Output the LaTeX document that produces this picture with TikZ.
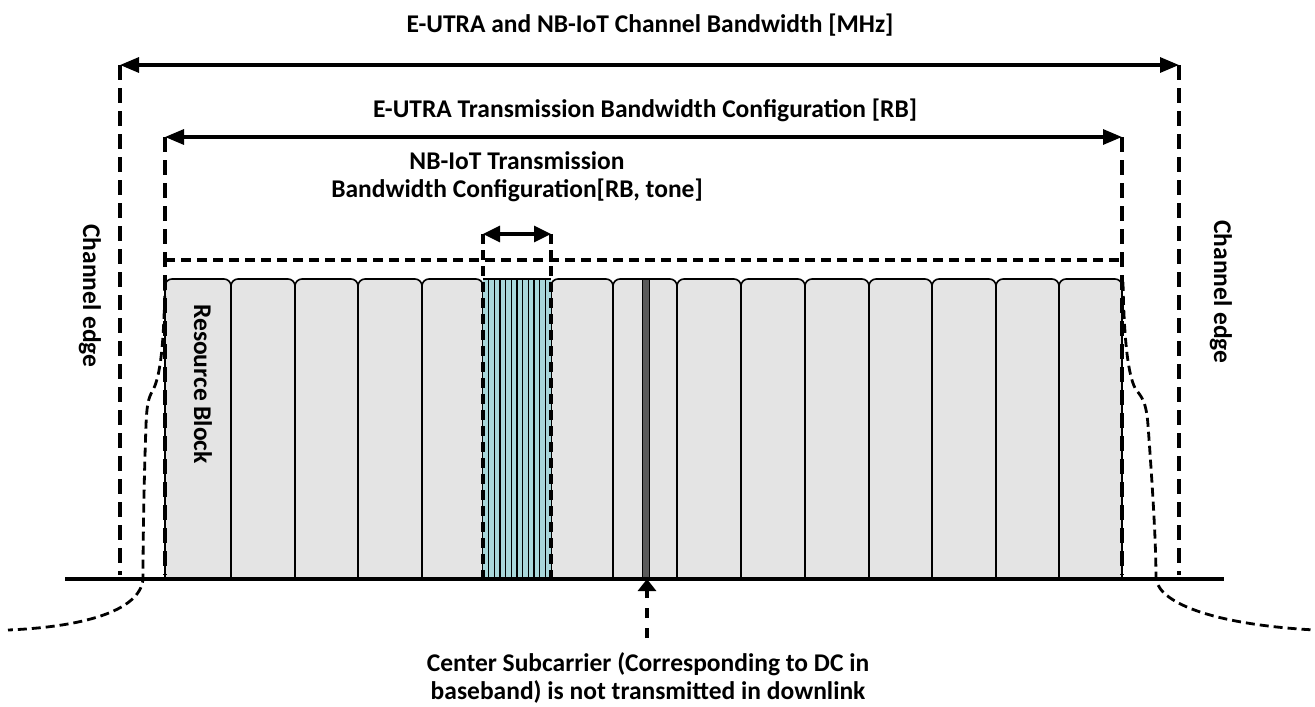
\documentclass[tikz,border=0pt]{standalone}
\usepackage{fontspec}
\setmainfont{Carlito}
\usetikzlibrary{arrows.meta}
\definecolor{rbgray}{RGB}{228,228,228}
\definecolor{nbcyan}{RGB}{168,215,218}
\definecolor{dcgray}{RGB}{90,90,90}
\begin{document}
\begin{tikzpicture}[x=1pt,y=-1pt,
  lbl/.style={font=\bfseries\fontsize{25.5}{28}\selectfont, inner sep=0pt},
  blk/.style={fill=rbgray, draw=black, line width=1.6pt, rounded corners=7pt},
  dshL/.style={line width=3.2pt, dash pattern=on 15pt off 8pt},
  dsh/.style={line width=3.2pt, dash pattern=on 10pt off 6pt},
  dshc/.style={line width=2.8pt, dash pattern=on 9pt off 5pt},
  arr/.style={line width=3.2pt, {Triangle[length=19pt,width=15pt]}-{Triangle[length=19pt,width=15pt]}},
  arrs/.style={line width=3.2pt, {Triangle[length=17pt,width=16pt]}-{Triangle[length=17pt,width=16pt]}}]
\useasboundingbox (0,0) rectangle (1315,707);
% resource blocks
\foreach \a/\b in {165/231,231/295,295/358,358/422,422/483,551/613,613/677,677/741,741/805,805/869,869/932,932/996,996/1059,1059/1122}
  \filldraw[blk] (\a,579) |- (\b,279) -- (\b,579);
% NB-IoT block
\fill[nbcyan] (483,279) rectangle (551,579);
\foreach \k in {1,...,11}
  \draw[line width=1.3pt] ({483+\k*68/12},279) -- ++(0,300);
\draw[line width=1.6pt] (483,279) -- (551,279);
% DC subcarrier
\filldraw[fill=dcgray, draw=black, line width=1pt] (642,279) rectangle (649,579);
% coordinates
\coordinate (oL) at (120,65);  \coordinate (oR) at (1179,65);
\coordinate (oLb) at (120,575); \coordinate (oRb) at (1179,575);
\coordinate (iL) at (165,137); \coordinate (iR) at (1122,137);
\coordinate (iLb) at (165,575); \coordinate (iRb) at (1122,575);
\coordinate (bL) at (165,260); \coordinate (bR) at (1122,260);
\coordinate (nL) at (483,234); \coordinate (nR) at (551,234);
\coordinate (nLb) at (483,579); \coordinate (nRb) at (551,579);
\coordinate (gL) at (65,579); \coordinate (gR) at (1224,579);
\coordinate (dcTop) at (647,579); \coordinate (dcBot) at (647,638);
% dashed guide lines
\draw[dshL] (oL) -- (oLb);
\draw[dshL] (oR) -- (oRb);
\draw[dshL] (iL) -- (iLb);
\draw[dshL] (iR) -- (iRb);
\draw[dsh] (bL) -- (bR);
\draw[dsh] (nL) -- (nLb);
\draw[dsh] (nR) -- (nRb);
% spectrum mask curves
\draw[dshc] (165,282) .. controls (164,340) and (161,372) .. (154,388)
  .. controls (150,396) and (147,398) .. (146,425)
  .. controls (144,480) and (143,540) .. (143,579)
  .. controls (140,612) and (80,627) .. (8,630);
\draw[dshc] (1123,282) .. controls (1124,340) and (1128,374) .. (1135,388)
  .. controls (1140,396) and (1146,398) .. (1148,425)
  .. controls (1152,480) and (1156,540) .. (1156,579)
  .. controls (1160,605) and (1220,625) .. (1315,630);
% baseline
\draw[line width=4pt] (gL) -- (gR);
% arrows
\draw[arr] (oL) -- (oR);
\draw[arr] (iL) -- (iR);
\draw[arrs] (nL) -- (nR);
\draw[line width=3.2pt, dash pattern=on 10pt off 10pt, -{Triangle[length=12pt,width=18pt]}] (dcBot) -- (dcTop);
% labels
\node[lbl] (t1) at (650,25) {E-UTRA and NB-IoT Channel Bandwidth [MHz]};
\node[lbl] (t2) at (645,110) {E-UTRA Transmission Bandwidth Configuration [RB]};
\node[lbl, align=center] (t3) at (517,177) {NB-IoT Transmission\\Bandwidth Configuration[RB, tone]};
\node[lbl, rotate=-90] (ce1) at (90,296) {Channel edge};
\node[lbl, rotate=-90] (ce2) at (1221,292) {Channel edge};
\node[lbl, rotate=-90] (rb) at (203,384) {Resource Block};
\node[lbl, align=center] (dc) at (648,678) {Center Subcarrier (Corresponding to DC in\\baseband) is not transmitted in downlink};
\end{tikzpicture}
\end{document}
